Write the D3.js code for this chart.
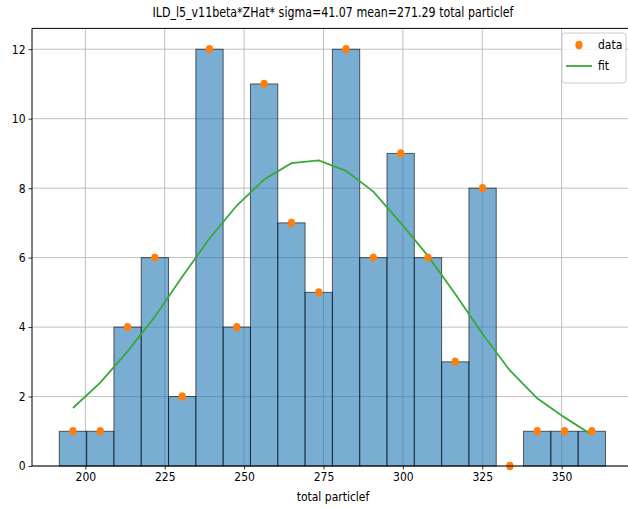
<!DOCTYPE html>
<html><head><meta charset="utf-8">
<script src="https://cdn.jsdelivr.net/npm/d3@7"></script>
<style>body{margin:0;background:#fff}svg{display:block}text{font-family:"DejaVu Sans Condensed","DejaVu Sans",sans-serif;font-stretch:condensed;fill:#000}</style>
</head><body><svg id="c" width="628" height="508"></svg>
<script>
const binStart = 191.8;
const binWidth = 8.6;
const counts = [1,1,4,6,2,12,4,11,7,5,12,6,9,6,3,8,0,1,1,1];
const fitValues = [1.67,2.4,3.3,4.3,5.45,6.55,7.5,8.25,8.72,8.8,8.5,7.9,7.0,6.05,4.95,3.8,2.75,1.95,1.4,0.9];
const xTicks = [200,225,250,275,300,325,350];
const yTicks = [0,2,4,6,8,10,12];
const title = "ILD_l5_v11beta*ZHat* sigma=41.07 mean=271.29 total particlef";
const xLabel = "total particlef";
const legendLabels = ["data","fit"];

const FF = '"DejaVu Sans Condensed","DejaVu Sans",sans-serif';
const svg = d3.select("#c");
const L=32, R=633.4, T=28.4, B=466;
const x = d3.scaleLinear().domain([183.2,372.6]).range([L,R]);
const y = d3.scaleLinear().domain([0,12.6]).range([B,T]);
const bins = counts.map((c,i)=>({x0:binStart+i*binWidth,x1:binStart+(i+1)*binWidth,c,fit:fitValues[i],mid:binStart+(i+0.5)*binWidth}));

// grid
const g = svg.append("g");
g.selectAll(".gx").data(xTicks).join("line").attr("x1",d=>x(d)).attr("x2",d=>x(d)).attr("y1",T).attr("y2",B).attr("stroke","#b0b0b0").attr("stroke-width",0.8);
g.selectAll(".gy").data(yTicks).join("line").attr("x1",L).attr("x2",R).attr("y1",d=>y(d)).attr("y2",d=>y(d)).attr("stroke","#b0b0b0").attr("stroke-width",0.8);

// bars
svg.append("g").selectAll("rect").data(bins.filter(b=>b.c>0)).join("rect")
 .attr("x",d=>x(d.x0)).attr("width",d=>x(d.x1)-x(d.x0))
 .attr("y",d=>y(d.c)).attr("height",d=>y(0)-y(d.c))
 .attr("fill","#1f77b4").attr("fill-opacity",0.6)
 .attr("stroke","#000").attr("stroke-opacity",0.6).attr("stroke-width",1);

// fit line
svg.append("path").datum(bins).attr("d",d3.line().x(d=>x(d.mid)).y(d=>y(d.fit)))
 .attr("fill","none").attr("stroke","#3aa83a").attr("stroke-width",1.8);

// points
svg.append("g").selectAll("ellipse").data(bins).join("ellipse")
 .attr("cx",d=>x(d.mid)).attr("cy",d=>y(d.c)).attr("rx",3.6).attr("ry",4.2).attr("fill","#ff7f0e");

// axes
const xa = svg.append("g").attr("transform",`translate(0,${B})`).call(d3.axisBottom(x).tickValues(xTicks).tickSize(3.5).tickPadding(3));
const ya = svg.append("g").attr("transform",`translate(${L},0)`).call(d3.axisLeft(y).tickValues(yTicks).tickSize(3.5).tickPadding(3));
[xa,ya].forEach(a=>{a.select(".domain").remove();a.selectAll("text").attr("font-size",12).attr("font-family",FF);a.selectAll("line").attr("stroke","#000").attr("stroke-width",0.8);});
svg.append("line").attr("x1",L).attr("x2",L).attr("y1",T).attr("y2",B).attr("stroke","#000").attr("stroke-width",1);
svg.append("line").attr("x1",L).attr("x2",R).attr("y1",B).attr("y2",B).attr("stroke","#000").attr("stroke-width",1);
svg.append("line").attr("x1",L).attr("x2",R).attr("y1",T).attr("y2",T).attr("stroke","#000").attr("stroke-width",1);

// title & label
svg.append("text").attr("x",333).attr("y",17).attr("text-anchor","middle").attr("font-size",14).attr("textLength",361).attr("lengthAdjust","spacingAndGlyphs").text(title);
svg.append("text").attr("x",333).attr("y",501).attr("text-anchor","middle").attr("font-size",12).text(xLabel);

// legend
const lg = svg.append("g").attr("transform","translate(562,33)");
lg.append("rect").attr("width",64).attr("height",50).attr("rx",3).attr("fill","#fff").attr("fill-opacity",0.8).attr("stroke","#ccc");
lg.append("ellipse").attr("cx",17).attr("cy",12).attr("rx",3.6).attr("ry",4.2).attr("fill","#ff7f0e");
lg.append("line").attr("x1",4).attr("x2",30).attr("y1",33).attr("y2",33).attr("stroke","#3aa83a").attr("stroke-width",1.8);
lg.selectAll("text.l").data(legendLabels).join("text").attr("x",36).attr("y",(d,i)=>16+i*21).attr("font-size",12).text(d=>d);
</script></body></html>
